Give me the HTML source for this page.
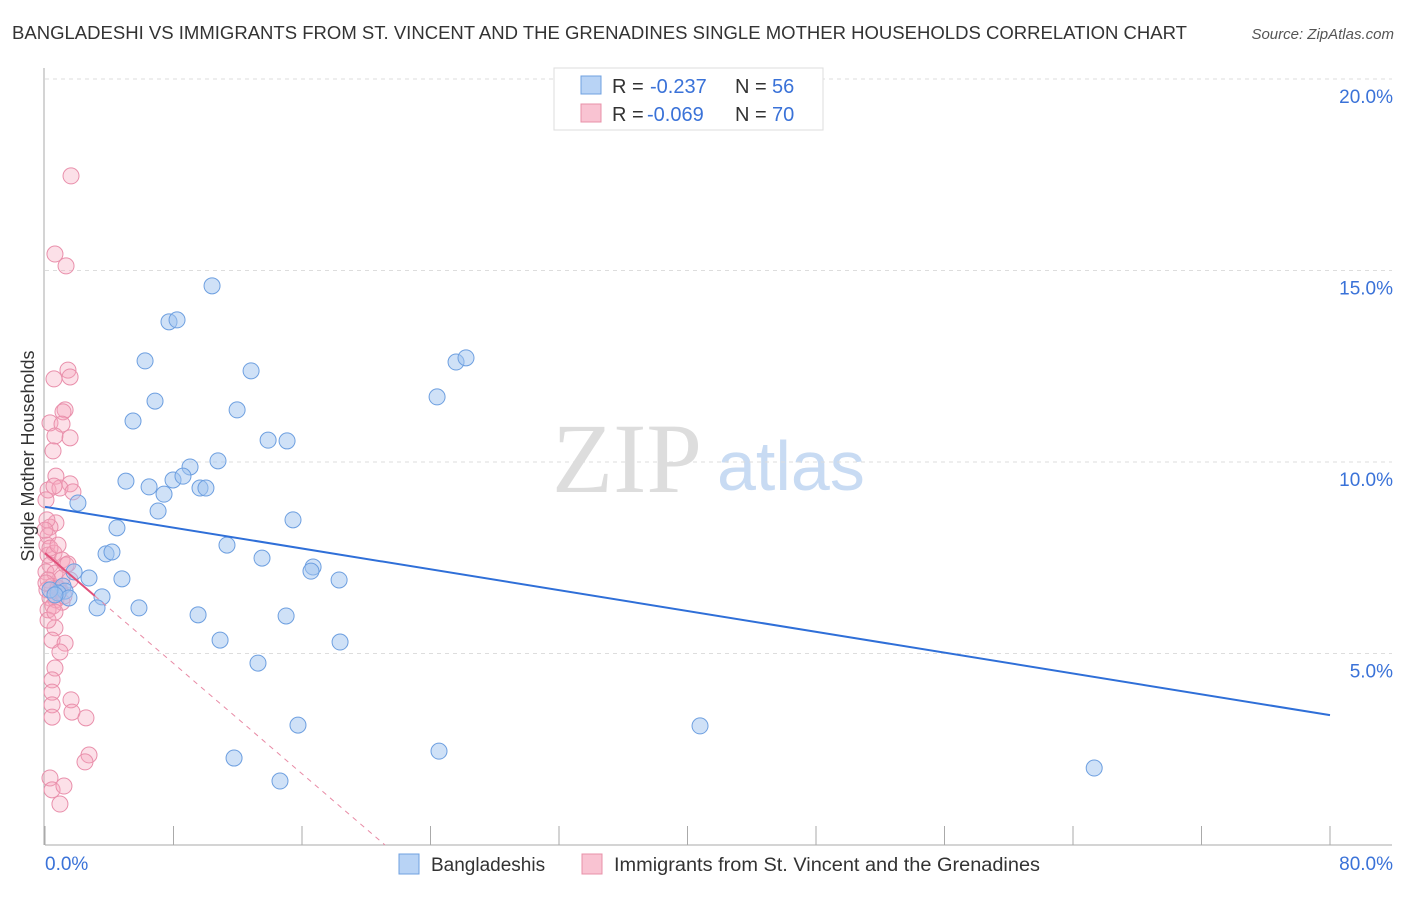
<!DOCTYPE html>
<html><head><meta charset="utf-8"><style>
body{margin:0;background:#fff;font-family:"Liberation Sans",sans-serif;}
</style></head><body>
<svg id="chart" width="1406" height="892" viewBox="0 0 1406 892" xmlns="http://www.w3.org/2000/svg" font-family="Liberation Sans, sans-serif">
<text x="12" y="39" font-size="18" fill="#333" textLength="1175" lengthAdjust="spacingAndGlyphs">BANGLADESHI VS IMMIGRANTS FROM ST. VINCENT AND THE GRENADINES SINGLE MOTHER HOUSEHOLDS CORRELATION CHART</text>
<text x="1394" y="39" font-size="15" fill="#555" text-anchor="end" font-style="italic">Source: ZipAtlas.com</text>
<g>
<text x="552" y="492" font-size="100" fill="#ddd" style="font-family:'Liberation Serif',serif">ZIP</text>
<text x="717" y="490" font-size="70" fill="#c8dbf3">atlas</text>
</g>
<g id="grid"></g><g id="axes"></g><g id="pts"></g><g id="lines"></g>
<text transform="translate(34,456) rotate(-90)" font-size="18" fill="#333" text-anchor="middle">Single Mother Households</text>
<g>
<rect x="554" y="68" width="269" height="62" fill="#fff" stroke="#ddd"/>
<rect x="581" y="76" width="20" height="18" fill="#b8d3f5" stroke="#6fa0e0"/>
<rect x="581" y="104" width="20" height="18" fill="#f9c3d2" stroke="#e890a8"/>
<text x="612" y="93" font-size="20" fill="#333">R =</text>
<text x="650" y="93" font-size="20" fill="#3a72d8">-0.237</text>
<text x="735" y="93" font-size="20" fill="#333">N =</text>
<text x="772" y="93" font-size="20" fill="#3a72d8">56</text>
<text x="612" y="121" font-size="20" fill="#333">R =</text>
<text x="647" y="121" font-size="20" fill="#3a72d8">-0.069</text>
<text x="735" y="121" font-size="20" fill="#333">N =</text>
<text x="772" y="121" font-size="20" fill="#3a72d8">70</text>
</g>
<g>
<rect x="399" y="854" width="20" height="20" fill="#b8d3f5" stroke="#6fa0e0"/>
<text x="431" y="871" font-size="19" fill="#333">Bangladeshis</text>
<rect x="582" y="854" width="20" height="20" fill="#f9c3d2" stroke="#e890a8"/>
<text x="614" y="871" font-size="19" fill="#333" textLength="426" lengthAdjust="spacingAndGlyphs">Immigrants from St. Vincent and the Grenadines</text>
</g>
</svg>
<script>
const yTicks=[5,10,15,20];
const xTickLabels=["0.0%","80.0%"];
const blueX=[10.40,7.72,8.22,6.23,12.83,6.85,11.96,5.48,13.89,15.07,24.41,25.59,26.21,10.77,9.03,5.04,6.48,7.97,8.59,7.41,9.65,10.02,2.05,7.04,15.44,4.48,11.33,3.80,4.17,13.51,16.69,16.56,18.31,1.81,2.74,4.79,1.12,1.25,0.81,1.49,3.55,3.24,5.85,9.53,15.01,10.90,18.37,13.26,15.75,40.78,11.77,24.53,14.63,65.32,0.31,0.62];
const blueY=[14.60,13.66,13.71,12.64,12.38,11.59,11.36,11.07,10.57,10.55,11.70,12.61,12.72,10.03,9.87,9.50,9.35,9.53,9.63,9.16,9.32,9.32,8.93,8.72,8.49,8.28,7.83,7.60,7.65,7.49,7.26,7.15,6.92,7.13,6.97,6.95,6.76,6.63,6.58,6.45,6.48,6.19,6.19,6.01,5.98,5.35,5.30,4.75,3.13,3.11,2.27,2.45,1.67,2.01,6.66,6.53];
const pinkX=[1.62,0.62,1.31,1.43,0.56,1.56,1.25,1.12,0.31,1.06,0.62,1.56,0.50,0.68,1.56,0.19,0.93,0.56,1.74,0.68,0.31,0.19,0.12,0.19,0.56,1.06,1.31,0.31,0.06,0.62,0.19,0.44,0.93,0.12,0.31,0.68,1.06,0.50,0.19,0.62,0.44,1.25,0.93,0.62,0.44,0.44,1.62,0.44,1.68,0.44,2.55,2.74,2.49,0.31,0.44,1.18,0.93,0.06,0.12,0.81,1.18,1.43,0.19,0.62,0.06,0.31,1.56,0.81,0,1.06];
const pinkY=[17.47,15.43,15.12,12.40,12.17,12.22,11.36,11.31,11.02,10.99,10.68,10.63,10.29,9.63,9.43,9.27,9.32,9.37,9.22,8.41,8.30,8.07,7.83,7.57,7.62,7.44,7.31,7.31,7.13,7.10,6.92,6.76,6.66,6.66,6.45,6.40,6.34,6.24,6.14,5.67,5.35,5.27,5.04,4.62,4.31,3.99,3.79,3.66,3.47,3.34,3.32,2.35,2.17,1.75,1.44,1.54,1.07,9.01,8.49,6.71,6.50,7.34,5.87,6.08,6.84,7.75,6.92,7.83,8.22,6.97];
const blueTrend=[8.83,3.39];   // y at x=0 and x=80
const pinkTrend=[7.62,-0.36];  // intercept, slope
const X=v=>45+v/80*1285, Y=v=>845-v*38.3;
const NS="http://www.w3.org/2000/svg";
function mk(tag,attrs,parent){const e=document.createElementNS(NS,tag);for(const k in attrs)e.setAttribute(k,attrs[k]);document.getElementById(parent).appendChild(e);return e;}
yTicks.forEach(t=>{
 const l=mk('line',{x1:45,x2:1392,y1:Y(t),y2:Y(t),stroke:'#ddd','stroke-dasharray':'4,4'},'grid');
 
 
 const tx=mk('text',{x:1393,y:Y(t)+24,'font-size':19,fill:'#3a72d8','text-anchor':'end'},'grid');
 tx.textContent=t.toFixed(1)+'%';
 
 
});
const ax=mk('line',{x1:45,x2:1392,y1:845,y2:845,stroke:'#aaa'},'axes');


const ay=mk('line',{x1:44,x2:44,y1:68,y2:845,stroke:'#aaa'},'axes');


for(let i=0;i<=10;i++){
 const tk=mk('line',{x1:X(i*8),x2:X(i*8),y1:826,y2:845,stroke:'#aaa'},'axes');
 
 
}
[[0,'start',45],[80,'end',1393]].forEach((d,i)=>{
 const t=mk('text',{x:d[2],y:870,'font-size':19,fill:'#3a72d8','text-anchor':d[1]},'axes');
 t.textContent=xTickLabels[i];
 
 
});
pinkX.forEach((x,i)=>{
 const c=mk('circle',{cx:X(x),cy:Y(pinkY[i]),r:8,fill:'rgba(245,165,190,0.35)',stroke:'#e98fab','stroke-width':1},'pts');
 
 
});
blueX.forEach((x,i)=>{
 const c=mk('circle',{cx:X(x),cy:Y(blueY[i]),r:8,fill:'rgba(160,196,240,0.5)',stroke:'#6d9fe0','stroke-width':1},'pts');
 
 
});
const bl=mk('line',{x1:X(0),y1:Y(blueTrend[0]),x2:X(80),y2:Y(blueTrend[1]),stroke:'#2f6fd8','stroke-width':2},'lines');


const pf=x=>pinkTrend[0]+pinkTrend[1]*x;
const p1=mk('line',{x1:X(0),y1:Y(pf(0)),x2:X(3.1),y2:Y(pf(3.1)),stroke:'#e0507a','stroke-width':2},'lines');


const xEnd=-pinkTrend[0]/pinkTrend[1];
const p2=mk('line',{x1:X(3.1),y1:Y(pf(3.1)),x2:X(xEnd),y2:Y(0),stroke:'#e88aa5','stroke-width':1,'stroke-dasharray':'5,5'},'lines');


</script>
</body></html>
